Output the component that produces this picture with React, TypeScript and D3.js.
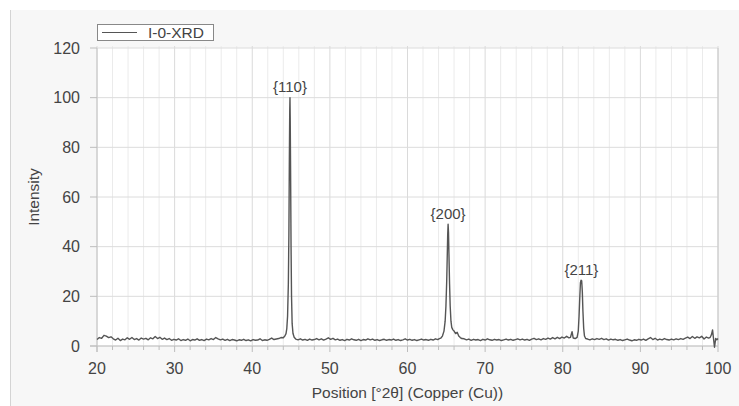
import React from "react";
import * as d3 from "d3";

const seriesName = "I-0-XRD";
const xTicks = [20, 30, 40, 50, 60, 70, 80, 90, 100];
const yTicks = [0, 20, 40, 60, 80, 100, 120];
const peakLabels = ["{110}", "{200}", "{211}"];
const peakPositions = [44.86, 65.23, 82.4];
const peakHeights = [100, 49, 26.5];

// [2θ, intensity]
const pattern: [number, number][] = [
  [20.0, 2.6], [20.3, 3.4], [20.6, 3.1], [20.9, 4.3], [21.2, 4.0], [21.5, 3.4], [21.8, 3.7], [22.1, 2.9],
  [22.4, 2.4], [22.7, 3.1], [23.0, 2.2], [23.3, 2.8], [23.6, 2.5], [23.9, 3.3], [24.2, 2.7], [24.5, 3.4],
  [24.8, 2.6], [25.1, 3.0], [25.4, 2.4], [25.7, 3.2], [26.0, 2.8], [26.3, 3.1], [26.6, 2.5], [26.9, 3.3],
  [27.2, 2.9], [27.5, 3.8], [27.8, 3.0], [28.1, 3.5], [28.4, 2.7], [28.7, 3.2], [29.0, 2.6], [29.3, 3.0],
  [29.6, 2.3], [29.9, 2.7], [30.2, 2.4], [30.5, 2.9], [30.8, 2.2], [31.1, 2.6], [31.4, 2.3], [31.7, 2.8],
  [32.0, 2.1], [32.3, 2.6], [32.6, 2.4], [32.9, 2.9], [33.2, 2.3], [33.5, 2.6], [33.8, 2.2], [34.1, 2.8],
  [34.4, 2.5], [34.7, 3.0], [35.0, 2.6], [35.3, 3.4], [35.6, 2.9], [35.9, 2.5], [36.2, 2.8], [36.5, 2.3],
  [36.8, 2.7], [37.1, 2.2], [37.4, 2.6], [37.7, 2.4], [38.0, 2.1], [38.3, 2.5], [38.6, 2.3], [38.9, 2.7],
  [39.2, 2.2], [39.5, 2.5], [39.8, 2.1], [40.1, 2.6], [40.4, 2.3], [40.7, 2.4], [41.0, 2.9], [41.3, 2.2],
  [41.6, 2.5], [41.9, 2.3], [42.2, 2.7], [42.5, 3.2], [42.8, 2.6], [43.1, 2.8], [43.4, 3.0], [43.7, 3.4],
  [44.0, 3.3], [44.2, 4.0], [44.35, 5.0], [44.45, 7], [44.55, 12], [44.65, 25], [44.72, 45], [44.78, 75],
  [44.83, 95], [44.86, 100], [44.89, 92], [44.94, 70], [45.0, 40], [45.06, 20], [45.14, 9], [45.25, 5],
  [45.4, 3.5], [45.6, 2.8], [45.9, 2.5], [46.2, 2.9], [46.5, 2.4], [46.8, 2.7], [47.1, 2.3], [47.4, 2.8],
  [47.7, 2.4], [48.0, 2.6], [48.3, 3.0], [48.6, 2.5], [48.9, 2.9], [49.2, 2.4], [49.5, 2.8], [49.8, 3.3],
  [50.1, 2.7], [50.4, 3.1], [50.7, 2.5], [51.0, 2.8], [51.3, 2.3], [51.6, 2.6], [51.9, 2.2], [52.2, 2.7],
  [52.5, 2.4], [52.8, 2.9], [53.1, 2.5], [53.4, 2.3], [53.7, 2.7], [54.0, 2.2], [54.3, 2.6], [54.6, 2.4],
  [54.9, 2.9], [55.2, 2.5], [55.5, 2.8], [55.8, 2.3], [56.1, 2.6], [56.4, 2.2], [56.7, 2.5], [57.0, 2.7],
  [57.3, 2.3], [57.6, 2.6], [57.9, 2.4], [58.2, 2.8], [58.5, 2.3], [58.8, 2.6], [59.1, 2.2], [59.4, 2.5],
  [59.7, 2.9], [60.0, 2.4], [60.3, 2.7], [60.6, 2.3], [60.9, 2.6], [61.2, 2.2], [61.5, 2.5], [61.8, 2.8],
  [62.1, 2.4], [62.4, 2.6], [62.7, 2.3], [63.0, 2.7], [63.3, 2.4], [63.6, 2.9], [63.9, 2.6], [64.1, 3.0],
  [64.3, 3.2], [64.5, 4.0], [64.7, 6.0], [64.85, 10], [64.95, 16], [65.05, 26], [65.12, 36], [65.18, 45],
  [65.23, 49], [65.28, 46], [65.34, 37], [65.42, 25], [65.5, 16], [65.6, 10], [65.7, 7.5], [65.85, 6.5],
  [66.0, 6.0], [66.2, 5.0], [66.4, 5.5], [66.6, 4.0], [66.8, 3.4], [67.0, 3.0], [67.3, 2.9], [67.6, 2.5],
  [67.9, 2.8], [68.2, 2.3], [68.5, 2.7], [68.8, 2.4], [69.1, 2.6], [69.4, 2.2], [69.7, 2.7], [70.0, 2.4],
  [70.3, 2.9], [70.6, 2.5], [70.9, 2.3], [71.2, 2.7], [71.5, 2.4], [71.8, 2.6], [72.1, 2.2], [72.4, 2.5],
  [72.7, 2.8], [73.0, 2.4], [73.3, 2.7], [73.6, 2.3], [73.9, 2.6], [74.2, 2.9], [74.5, 2.5], [74.8, 2.8],
  [75.1, 2.4], [75.4, 2.7], [75.7, 2.3], [76.0, 2.8], [76.3, 3.1], [76.6, 2.6], [76.9, 2.9], [77.2, 2.5],
  [77.5, 3.0], [77.8, 2.7], [78.1, 3.2], [78.4, 2.8], [78.7, 3.4], [79.0, 2.9], [79.3, 3.5], [79.6, 3.0],
  [79.9, 3.6], [80.2, 3.2], [80.5, 3.9], [80.8, 3.3], [81.0, 3.5], [81.2, 5.8], [81.35, 3.2], [81.6, 3.0],
  [81.85, 3.5], [82.0, 6], [82.1, 12], [82.2, 20], [82.28, 25.5], [82.36, 26.5], [82.44, 26.3], [82.52, 22],
  [82.6, 14], [82.7, 7], [82.8, 4], [82.95, 3.0], [83.2, 2.8], [83.5, 2.5], [83.8, 2.9], [84.1, 2.6],
  [84.4, 3.0], [84.7, 2.7], [85.0, 3.1], [85.3, 2.6], [85.6, 2.9], [85.9, 2.4], [86.2, 2.8], [86.5, 2.5],
  [86.8, 2.7], [87.1, 2.3], [87.4, 2.6], [87.7, 2.2], [88.0, 2.5], [88.3, 2.8], [88.6, 2.4], [88.9, 2.1],
  [89.2, 2.5], [89.5, 2.3], [89.8, 2.7], [90.1, 2.4], [90.4, 2.8], [90.7, 2.3], [91.0, 2.9], [91.3, 3.4],
  [91.6, 2.6], [91.9, 3.1], [92.2, 2.4], [92.5, 2.8], [92.8, 2.5], [93.1, 3.0], [93.4, 2.6], [93.7, 2.4],
  [94.0, 2.8], [94.3, 2.5], [94.6, 2.9], [94.9, 2.6], [95.2, 3.0], [95.5, 2.7], [95.8, 3.2], [96.1, 3.6],
  [96.4, 3.0], [96.7, 3.8], [97.0, 3.1], [97.3, 3.7], [97.6, 3.3], [97.9, 3.9], [98.2, 2.8], [98.5, 3.6],
  [98.8, 3.2], [99.0, 3.5], [99.15, 4.5], [99.3, 6.5], [99.42, 3.0], [99.55, -0.5], [99.7, 3.0], [99.85, 2.5],
  [100.0, 3.0],
];

const W = 739;
const H = 406;
const left = 97;
const right = 718;
const top = 48;
const bottom = 346;

export default function App() {
  const x = d3.scaleLinear().domain([20, 100]).range([left, right]);
  const y = d3.scaleLinear().domain([0, 120]).range([bottom, top]);
  const line = d3
    .line<[number, number]>()
    .x((d) => x(d[0]))
    .y((d) => y(d[1]));
  const minor = d3.range(20, 100.001, 2);
  const font = "Liberation Sans, Arial, sans-serif";

  return (
    <svg
      width={W}
      height={H}
      style={{ position: "absolute", left: 0, top: 0, background: "#fff" }}
    >
      <rect x={10} y={10} width={W - 10} height={H - 10} fill="#f7f7f7" />
      <line x1={10.5} x2={10.5} y1={10} y2={H} stroke="#d4d4d4" />
      <rect x={left} y={top} width={right - left} height={bottom - top} fill="#ffffff" />
      {minor.map((v) => (
        <line
          key={"g" + v}
          x1={x(v)}
          x2={x(v)}
          y1={top - 2}
          y2={bottom}
          stroke={v % 10 === 0 ? "#dadada" : "#ebebeb"}
          strokeWidth={1}
        />
      ))}
      {yTicks.map((v) => (
        <line key={"h" + v} x1={left} x2={right} y1={y(v)} y2={y(v)} stroke="#dcdcdc" />
      ))}
      <line x1={right} x2={right} y1={top} y2={bottom} stroke="#c8c8c8" />
      <line x1={left} x2={left} y1={top} y2={bottom + 6} stroke="#c4c4c4" />
      <line x1={left - 7} x2={right} y1={bottom} y2={bottom} stroke="#c4c4c4" />
      {minor.map((v) => (
        <line
          key={"t" + v}
          x1={x(v)}
          x2={x(v)}
          y1={bottom}
          y2={bottom + (v % 10 === 0 ? 6 : 4)}
          stroke="#bdbdbd"
        />
      ))}
      {yTicks.map((v) => (
        <line key={"yt" + v} x1={left - 7} x2={left} y1={y(v)} y2={y(v)} stroke="#bdbdbd" />
      ))}
      {yTicks.map((v) => (
        <text
          key={"yl" + v}
          x={80}
          y={y(v)}
          textAnchor="end"
          dominantBaseline="central"
          fontFamily={font}
          fontSize={16}
          fill="#444"
        >
          {v}
        </text>
      ))}
      {xTicks.map((v) => (
        <text
          key={"xl" + v}
          x={x(v)}
          y={368}
          textAnchor="middle"
          dominantBaseline="central"
          fontFamily={font}
          fontSize={16}
          fill="#444"
        >
          {v}
        </text>
      ))}
      <text
        x={(left + right) / 2}
        y={392}
        textAnchor="middle"
        dominantBaseline="central"
        fontFamily={font}
        fontSize={15.5}
        fill="#444"
      >
        Position [°2θ] (Copper (Cu))
      </text>
      <text
        transform={`translate(33,${(top + bottom) / 2}) rotate(-90)`}
        textAnchor="middle"
        dominantBaseline="central"
        fontFamily={font}
        fontSize={15.5}
        fill="#444"
      >
        Intensity
      </text>
      <path d={line(pattern) || ""} fill="none" stroke="#555" strokeWidth={1.4} strokeLinejoin="round" />
      {peakLabels.map((t, i) => (
        <text
          key={t}
          x={x(peakPositions[i])}
          y={y(peakHeights[i]) - 11}
          textAnchor="middle"
          dominantBaseline="central"
          fontFamily={font}
          fontSize={15}
          fill="#444"
        >
          {t}
        </text>
      ))}
      <rect x={97.5} y={24.5} width={116} height={16} fill="#fff" stroke="#888" />
      <line x1={102} x2={137} y1={32.5} y2={32.5} stroke="#555" strokeWidth={1.2} />
      <text
        x={148}
        y={32.5}
        dominantBaseline="central"
        fontFamily={font}
        fontSize={15.5}
        fill="#444"
      >
        {seriesName}
      </text>
    </svg>
  );
}
